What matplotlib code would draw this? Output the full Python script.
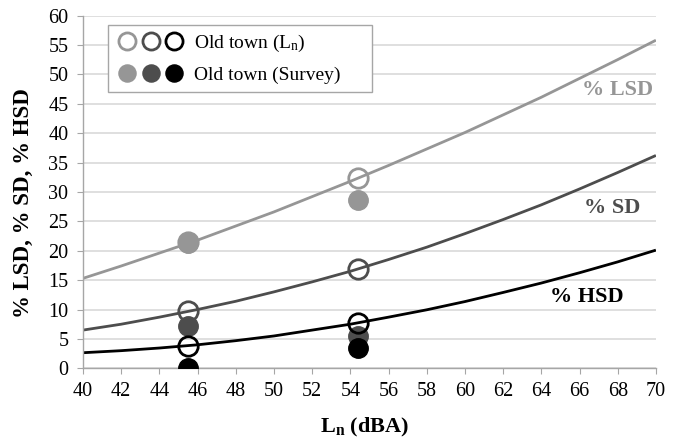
import matplotlib
matplotlib.use("Agg")
import matplotlib.pyplot as plt
from matplotlib.legend_handler import HandlerTuple

plt.rcParams['font.family'] = ['Liberation Serif', 'DejaVu Serif']
plt.rcParams['mathtext.fontset'] = 'custom'
plt.rcParams['mathtext.rm'] = 'Liberation Serif'
plt.rcParams['mathtext.bf'] = 'Liberation Serif:bold'

# Curve samples
curve_x = [40, 42, 44, 46, 48, 50, 52, 54, 56, 58, 60, 62, 64, 66, 68, 70]
lsd_curve = [15.3, 17.4, 19.6, 21.8, 24.2, 26.6, 29.2, 31.8, 34.5, 37.3, 40.1, 43.1, 46.1, 49.3, 52.5, 55.8]
sd_curve = [6.5, 7.5, 8.7, 10.0, 11.4, 13.0, 14.7, 16.5, 18.5, 20.6, 22.9, 25.3, 27.8, 30.5, 33.3, 36.2]
hsd_curve = [2.65, 3.0, 3.45, 4.0, 4.7, 5.5, 6.5, 7.5, 8.7, 9.95, 11.35, 12.9, 14.5, 16.25, 18.1, 20.1]

# Points
pts_x = [45.5, 54.4]
lsd_ln = [21.4, 32.3]
sd_ln = [9.8, 16.9]
hsd_ln = [3.85, 7.75]
lsd_survey = [21.3, 28.6]
sd_survey = [7.2, 5.5]
hsd_survey = [0.0, 3.5]

labels = ["Old town (L$\\mathregular{_n}$)", "Old town (Survey)     "]
curve_names = ["% LSD", "% SD", "% HSD"]
x_ticks = list(range(40, 71, 2))
y_ticks = list(range(0, 61, 5))

c_light = '#969696'
c_dark = '#4d4d4d'
c_black = '#000000'
colors = [c_light, c_dark, c_black]

fig = plt.figure(figsize=(6.78, 4.46), dpi=100)
ax = fig.add_axes([0.1224, 0.1742, 0.845, 0.791])

for y, c in zip([lsd_curve, sd_curve, hsd_curve], colors):
    ax.plot(curve_x, y, color=c, lw=2.0, zorder=2, solid_capstyle='butt')

ms = 14
mew = 2.0
filled_handles = []
for y, c in zip([lsd_survey, sd_survey, hsd_survey], colors):
    h, = ax.plot(pts_x, y, 'o', ms=ms, color=c, mec=c, zorder=3, linestyle='none')
    filled_handles.append(h)
open_handles = []
for y, c in zip([lsd_ln, sd_ln, hsd_ln], colors):
    h, = ax.plot(pts_x, y, 'o', ms=ms, mfc='none', mec=c, mew=mew, zorder=4, linestyle='none')
    open_handles.append(h)

ax.set_xlim(40, 70)
ax.set_ylim(0, 60)
ax.set_xticks(x_ticks)
ax.set_yticks(y_ticks)
ax.grid(axis='y', color='#d9d9d9', lw=1.2)
ax.set_axisbelow(True)
for s in ['top', 'right']:
    ax.spines[s].set_visible(False)
for s in ['left', 'bottom']:
    ax.spines[s].set_color('#a6a6a6')
    ax.spines[s].set_linewidth(1.0)
ax.tick_params(axis='both', direction='out', length=4.5, color='#a6a6a6', labelsize=14.5)
ax.tick_params(axis='y', pad=6)
ax.tick_params(axis='x', pad=5)

ax.set_xlabel("L$\\mathregular{_n}$ (dBA)", fontsize=16, fontweight='bold')
ax.set_ylabel("% LSD, % SD, % HSD", fontsize=16.5, fontweight='bold')
ax.xaxis.set_label_coords(0.492, -0.135)
ax.yaxis.set_label_coords(-0.085, 0.4685)

ax.text(68.0, 47.4, curve_names[0], color=c_light, fontsize=16, fontweight='bold', ha='center', va='center')
ax.text(67.7, 27.3, curve_names[1], color=c_dark, fontsize=16, fontweight='bold', ha='center', va='center')
ax.text(66.4, 12.2, curve_names[2], color=c_black, fontsize=16, fontweight='bold', ha='center', va='center')

leg = ax.legend(handles=[tuple(open_handles), tuple(filled_handles)], labels=labels,
                handler_map={tuple: HandlerTuple(ndivide=None, pad=0.0)},
                loc='upper left', bbox_to_anchor=(0.0436, 0.972), fontsize=14,
                frameon=True, fancybox=False, edgecolor='#a6a6a6', framealpha=1,
                handlelength=3.6, handletextpad=0.4, borderpad=0.4, borderaxespad=0,
                labelspacing=0.63, markerscale=0.88)
leg.get_frame().set_linewidth(1.0)

fig.savefig("out.png", dpi=100)
